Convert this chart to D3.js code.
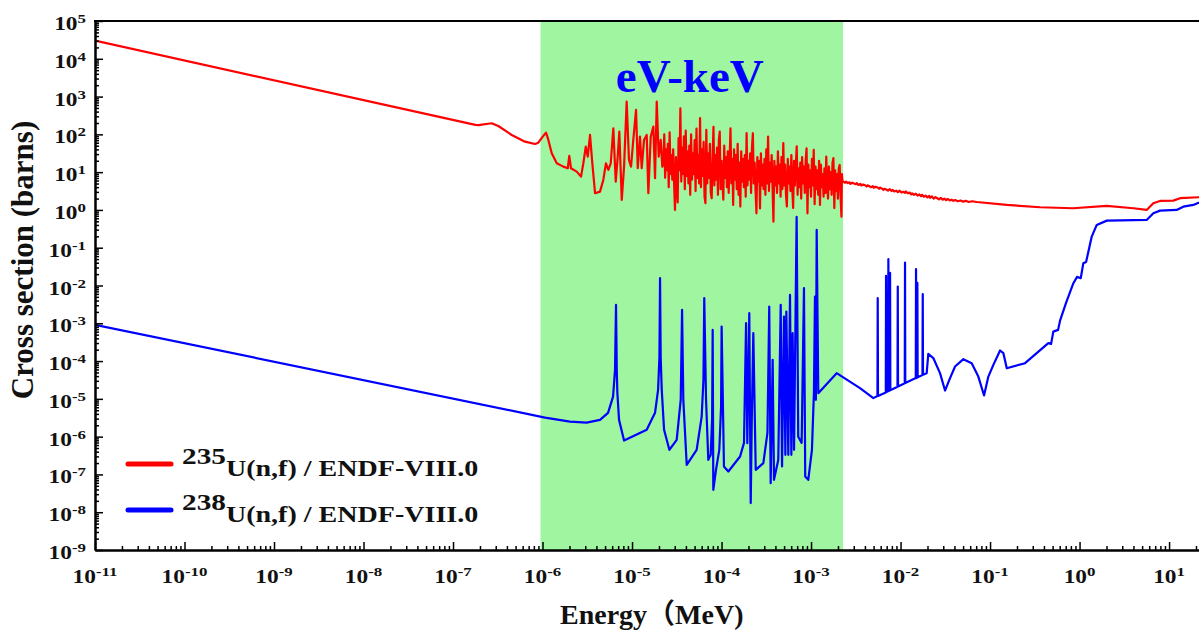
<!DOCTYPE html>
<html lang="en">
<head>
    <meta charset="UTF-8">
    <script src="https://d3js.org/d3.v7.min.js"></script>
    <title>Fission cross sections</title>
    <style>
        body { margin: 0; background: #fff; }
        svg { display: block; background: #fff; }
        text { font-family: "Liberation Serif", "Noto Sans CJK SC", serif; font-weight: bold; }
    </style>
</head>
<body>
    <svg width="1199" height="631"></svg>
    <script>
    // values, as [log10(E / MeV), log10(sigma / barn)]
    const u235Low = [
        [-11, 4.48], [-6.75, 2.25], [-6.717, 2.243], [-6.568, 2.294], [-6.494, 2.222], [-6.344, 1.984],
        [-6.196, 1.807], [-6.084, 1.746], [-6.047, 1.78], [-5.998, 1.939], [-5.961, 2.045], [-5.935, 1.852],
        [-5.897, 1.50], [-5.841, 1.235], [-5.768, 1.146], [-5.718, 1.103], [-5.701, 1.429], [-5.682, 1.103],
        [-5.618, 1.013], [-5.570, 0.881], [-5.544, 1.235], [-5.517, 1.675], [-5.495, 1.41], [-5.469, 1.984],
        [-5.447, 1.323], [-5.413, 0.442], [-5.358, 0.484], [-5.321, 0.794], [-5.291, 1.235], [-5.265, 1.058],
        [-5.238, 1.235], [-5.209, 2.161], [-5.182, 0.749], [-5.160, 1.41], [-5.142, 2.071], [-5.115, 0.265],
        [-5.089, 1.146], [-5.060, 2.865], [-5.034, 1.323], [-5.011, 1.146], [-4.986, 1.852], [-4.955, 2.646],
        [-4.936, 1.103], [-4.911, 1.939], [-4.892, 1.103], [-4.866, 1.852], [-4.836, 1.984], [-4.818, 0.442],
        [-4.791, 1.939], [-4.762, 2.204], [-4.743, 0.839], [-4.724, 2.865], [-4.702, 1.41], [-4.679, 1.852],
        [-4.662, 1.146]
    ];

    // dense resolved resonances, 10 eV - 2.25 keV
    const u235Resolved = [
        [-4.65, 1.20], [-4.64, 2.00], [-4.63, 0.85], [-4.62, 1.60], [-4.61, 1.05], [-4.60, 1.75], [-4.59, 0.60], [-4.58, 2.05], [-4.57, 0.95], [-4.56, 1.45],
        [-4.55, 0.80], [-4.54, 1.60], [-4.53, 0.70], [-4.52, 0.00], [-4.51, 1.40], [-4.50, 0.65], [-4.49, 0.20], [-4.48, 1.90], [-4.47, 1.05], [-4.46, 2.69],
        [-4.45, 0.75], [-4.44, 1.65], [-4.43, 0.95], [-4.42, 1.95], [-4.41, 0.55], [-4.40, 2.10], [-4.39, 0.90], [-4.38, 1.55], [-4.37, 0.70], [-4.36, 1.70],
        [-4.35, 0.40], [-4.34, 2.00], [-4.33, 0.80], [-4.32, 1.50], [-4.31, 0.95], [-4.30, 1.85], [-4.29, 0.50], [-4.28, 2.15], [-4.27, 0.85], [-4.26, 1.45],
        [-4.25, 0.70], [-4.24, 2.43], [-4.23, 0.60], [-4.22, 1.60], [-4.21, 0.90], [-4.20, 1.80], [-4.19, 0.35], [-4.18, 0.18], [-4.17, 2.12], [-4.16, 0.70],
        [-4.15, 1.50], [-4.14, 0.85], [-4.13, 1.75], [-4.12, 0.45], [-4.11, 0.31], [-4.10, 1.35], [-4.09, 2.20], [-4.08, 0.65], [-4.07, 1.45], [-4.06, 0.80],
        [-4.05, 1.65], [-4.04, 0.40], [-4.03, 1.85], [-4.02, 2.07], [-4.01, 0.55], [-4.00, 1.30], [-3.99, 0.75], [-3.98, 0.27], [-3.97, 1.70], [-3.96, 0.85],
        [-3.95, 1.40], [-3.94, 0.60], [-3.93, 1.55], [-3.92, 0.45], [-3.91, 1.30], [-3.90, 2.16], [-3.89, 0.70], [-3.88, 1.35], [-3.87, 0.13], [-3.86, 1.60],
        [-3.85, 0.80], [-3.84, 1.45], [-3.83, 0.55], [-3.82, 1.75], [-3.81, 0.40], [-3.80, 1.25], [-3.79, 0.09], [-3.78, 1.55], [-3.77, 0.75], [-3.76, 1.35],
        [-3.75, 0.60], [-3.74, 1.45], [-3.73, 0.35], [-3.72, 2.03], [-3.71, 0.65], [-3.70, 1.30], [-3.69, 0.80], [-3.68, 1.50], [-3.67, 0.45], [-3.66, 1.65],
        [-3.65, 2.03], [-3.64, 0.70], [-3.63, 1.25], [-3.62, 0.50], [-3.61, -0.09], [-3.60, 1.40], [-3.59, 0.75], [-3.58, 1.30], [-3.57, 0.04], [-3.56, 1.50],
        [-3.55, 0.65], [-3.54, 1.20], [-3.53, 0.55], [-3.52, 1.35], [-3.51, 0.40], [-3.50, 1.60], [-3.49, 0.70], [-3.48, 1.94], [-3.47, 0.50], [-3.46, 1.25],
        [-3.45, 0.75], [-3.44, 1.45], [-3.43, 0.60], [-3.42, -0.31], [-3.41, 1.30], [-3.40, 0.65], [-3.39, 1.15], [-3.38, 0.45], [-3.37, 1.55], [-3.36, 0.70],
        [-3.35, 1.20], [-3.34, 0.35], [-3.33, 1.40], [-3.32, 0.55], [-3.31, 1.77], [-3.30, 0.65], [-3.29, 1.20], [-3.28, 0.40], [-3.27, 0.09], [-3.26, 1.35],
        [-3.25, 0.70], [-3.24, 1.15], [-3.23, 0.50], [-3.22, 1.45], [-3.21, 0.60], [-3.20, 0.05], [-3.19, 1.30], [-3.18, 0.65], [-3.17, 1.20], [-3.16, 1.68],
        [-3.15, 0.40], [-3.14, 1.10], [-3.13, 0.60], [-3.12, 1.25], [-3.11, 0.30], [-3.10, 1.40], [-3.09, 0.70], [-3.08, 1.15], [-3.07, 0.45], [-3.06, 1.30],
        [-3.05, 1.63], [-3.04, -0.09], [-3.03, 1.20], [-3.02, 0.60], [-3.01, 1.05], [-3.00, 0.35], [-2.99, 1.35], [-2.98, 0.65], [-2.97, 1.59], [-2.96, 0.15],
        [-2.95, 1.15], [-2.94, 0.55], [-2.93, 1.05], [-2.92, 0.40], [-2.91, 1.30], [-2.90, 0.13], [-2.89, 1.20], [-2.88, 0.60], [-2.87, 0.95], [-2.86, 0.35],
        [-2.85, 1.10], [-2.84, 0.45], [-2.83, 1.41], [-2.82, 0.60], [-2.81, 0.30], [-2.80, 1.15], [-2.79, 0.55], [-2.78, 1.00], [-2.77, 0.40], [-2.76, 1.25],
        [-2.75, 1.37], [-2.74, 0.05], [-2.73, 1.05], [-2.72, 0.50], [-2.71, 0.95], [-2.70, 0.30], [-2.69, 1.10], [-2.68, 1.19], [-2.67, 0.35], [-2.66, -0.18],
        [-2.655, 0.95], [-2.648, 0.75]
    ];

    const u235High = [
        [-2.639, 0.75], [-2.62, 0.72], [-2.61, 0.75], [-2.59, 0.71], [-2.57, 0.73], [-2.56, 0.69], [-2.54, 0.72], [-2.52, 0.70],
        [-2.50, 0.68], [-2.49, 0.71], [-2.47, 0.66], [-2.45, 0.69], [-2.44, 0.65], [-2.42, 0.67], [-2.40, 0.66], [-2.38, 0.62],
        [-2.37, 0.65], [-2.35, 0.63], [-2.33, 0.60], [-2.31, 0.63], [-2.30, 0.59], [-2.28, 0.61], [-2.26, 0.60], [-2.24, 0.56],
        [-2.23, 0.59], [-2.21, 0.57], [-2.19, 0.53], [-2.18, 0.56], [-2.16, 0.54], [-2.14, 0.51], [-2.12, 0.55], [-2.10, 0.50],
        [-2.09, 0.53], [-2.07, 0.49], [-2.05, 0.51], [-2.03, 0.47], [-2.01, 0.51], [-1.99, 0.46], [-1.97, 0.48], [-1.95, 0.45],
        [-1.94, 0.49], [-1.92, 0.44], [-1.90, 0.46], [-1.88, 0.41], [-1.87, 0.44], [-1.85, 0.40], [-1.83, 0.43], [-1.81, 0.38],
        [-1.79, 0.41], [-1.77, 0.36], [-1.76, 0.40], [-1.74, 0.35], [-1.72, 0.38], [-1.70, 0.33], [-1.68, 0.37], [-1.67, 0.32],
        [-1.65, 0.36], [-1.63, 0.30], [-1.61, 0.34], [-1.59, 0.31], [-1.57, 0.28], [-1.55, 0.32], [-1.53, 0.27], [-1.51, 0.30],
        [-1.49, 0.26], [-1.47, 0.29], [-1.45, 0.25], [-1.43, 0.27], [-1.41, 0.24], [-1.39, 0.26], [-1.36, 0.23], [-1.33, 0.25],
        [-1.30, 0.22], [-1.27, 0.24], [-1.24, 0.21], [-1.20, 0.23], [-1.149, 0.21],
        [-0.813, 0.132], [-0.441, 0.071], [-0.073, 0.045], [0.304, 0.106], [0.602, 0.045], [0.750, 0.0],
        [0.824, 0.177], [0.899, 0.238], [1.048, 0.246], [1.123, 0.310], [1.335, 0.336]
    ];

    const u238Fission = [
        [-11, -3.04], [-5.972, -5.495], [-5.693, -5.601], [-5.507, -5.627], [-5.358, -5.556], [-5.268, -5.370],
        [-5.212, -4.939], [-5.190, -4.233], [-5.179, -2.513], [-5.170, -4.300], [-5.164, -4.841], [-5.145, -5.556],
        [-5.089, -6.103], [-4.836, -5.820], [-4.743, -5.370], [-4.709, -4.762], [-4.694, -3.900], [-4.687, -1.807],
        [-4.680, -3.900], [-4.668, -4.762], [-4.642, -5.820], [-4.583, -6.349], [-4.501, -6.085], [-4.456, -5.026],
        [-4.441, -2.646], [-4.427, -5.026], [-4.389, -6.746], [-4.278, -6.349], [-4.222, -5.468], [-4.202, -4.497],
        [-4.193, -2.336], [-4.173, -5.026], [-4.148, -6.614], [-4.121, -6.481], [-4.105, -5.500], [-4.099, -3.175],
        [-4.092, -7.407], [-4.062, -6.878], [-4.025, -6.349], [-4.005, -5.200], [-3.999, -3.087], [-3.973, -6.790],
        [-3.924, -6.923], [-3.793, -6.526], [-3.749, -6.164], [-3.726, -2.998], [-3.712, -6.172], [-3.690, -2.733],
        [-3.674, -7.759], [-3.662, -5.556], [-3.645, -3.262], [-3.618, -6.878], [-3.533, -6.701], [-3.487, -5.899],
        [-3.467, -2.558], [-3.451, -7.230], [-3.429, -3.968], [-3.414, -7.143], [-3.366, -6.614], [-3.339, -2.513],
        [-3.324, -6.790], [-3.302, -2.823], [-3.287, -6.481], [-3.276, -2.690], [-3.254, -6.481], [-3.235, -2.249],
        [-3.220, -6.481], [-3.206, -3.262], [-3.190, -6.349], [-3.161, -0.185], [-3.143, -6.005], [-3.105, -6.164],
        [-3.079, -2.071], [-3.065, -7.055], [-3.031, -7.143], [-2.990, -6.349], [-2.968, -4.849], [-2.956, -2.294],
        [-2.946, -5.026], [-2.937, -0.529], [-2.919, -4.849], [-2.714, -4.320], [-2.453, -4.717], [-2.304, -4.981],
        [-2.258, -4.927], [-2.255, -2.336], [-2.252, -4.922],
        [-2.165, -4.83], [-2.162, -1.746], [-2.159, -4.82], [-2.139, -4.80], [-2.136, -1.304], [-2.133, -4.79],
        [-2.120, -4.78], [-2.117, -1.667], [-2.114, -4.77],
        [-2.034, -4.68], [-2.031, -2.029], [-2.028, -4.67],
        [-1.953, -4.59], [-1.950, -1.394], [-1.947, -4.58],
        [-1.830, -4.45], [-1.827, -1.569], [-1.824, -4.45], [-1.815, -4.44], [-1.812, -1.931], [-1.809, -4.43],
        [-1.755, -4.37], [-1.752, -2.230], [-1.749, -4.36],
        [-1.708, -4.32], [-1.690, -3.81], [-1.634, -3.92], [-1.559, -4.32], [-1.503, -4.78], [-1.447, -4.45],
        [-1.391, -4.145], [-1.298, -3.95], [-1.205, -4.056], [-1.131, -4.41], [-1.067, -4.91], [-1.019, -4.41],
        [-0.963, -4.10], [-0.888, -3.72], [-0.851, -3.79], [-0.813, -4.19], [-0.609, -4.056], [-0.349, -3.526],
        [-0.318, -3.545], [-0.293, -3.220], [-0.240, -3.175], [-0.218, -2.929], [-0.151, -2.460], [-0.069, -1.939],
        [-0.028, -1.772], [0.013, -1.807], [0.042, -1.410], [0.073, -1.376], [0.136, -0.706], [0.192, -0.397],
        [0.304, -0.283], [0.750, -0.265], [0.824, -0.087], [0.899, -0.019], [1.085, 0.0], [1.159, 0.087],
        [1.271, 0.132], [1.335, 0.193]
    ];

    const seriesNames = ["U(n,f) / ENDF-VIII.0", "U(n,f) / ENDF-VIII.0"];
    const seriesIsotopes = ["235", "238"];
    const seriesColors = ["#ff0000", "#0000ff"];

    const energyRange = [1e-11, 21.6];      // MeV
    const sigmaRange = [1e-9, 1e5];         // barns
    const bandRange = [9.5e-7, 2.28e-3];    // eV-keV shaded region
    const bandLabel = "eV-keV";
    const xExps = d3.range(-11, 2);
    const yExps = d3.range(-9, 6);

    const svg = d3.select("svg");
    const margin = {top: 21, left: 95, bottom: 550, right: 1199};

    const x = d3.scaleLog().domain(energyRange).range([margin.left, margin.right]);
    const y = d3.scaleLog().domain(sigmaRange).range([margin.bottom, margin.top]);

    // shaded band
    svg.append("rect")
        .attr("x", x(bandRange[0]))
        .attr("y", y(sigmaRange[1]))
        .attr("width", x(bandRange[1]) - x(bandRange[0]))
        .attr("height", y(sigmaRange[0]) - y(sigmaRange[1]))
        .attr("fill", "#a0f5a0");

    svg.append("text")
        .attr("x", x(Math.sqrt(bandRange[0] * bandRange[1])) - 2)
        .attr("y", 92)
        .attr("text-anchor", "middle")
        .attr("font-size", 47)
        .attr("fill", "#0000ff")
        .text(bandLabel);

    svg.append("clipPath").attr("id", "plot")
        .append("rect")
        .attr("x", margin.left).attr("y", margin.top)
        .attr("width", margin.right - margin.left).attr("height", margin.bottom - margin.top);

    const line = d3.line()
        .x(d => x(Math.pow(10, d[0])))
        .y(d => y(Math.pow(10, d[1])));

    const u235Fission = u235Low.concat(u235Resolved, u235High);

    const curves = svg.append("g").attr("clip-path", "url(#plot)");
    [u235Fission, u238Fission].forEach((s, i) => {
        curves.append("path")
            .attr("d", line(s))
            .attr("fill", "none")
            .attr("stroke", seriesColors[i])
            .attr("stroke-width", 2.2)
            .attr("stroke-linejoin", "round");
    });

    // axes: major + minor ticks pointing inward
    const xMajor = xExps.map(e => Math.pow(10, e));
    const yMajor = yExps.map(e => Math.pow(10, e));
    const minorOf = (exps, hi) => exps.flatMap(e => d3.range(2, 10).map(m => m * Math.pow(10, e))).filter(v => v <= hi);
    const xMinor = minorOf(xExps, energyRange[1]);
    const yMinor = minorOf(yExps.slice(0, -1), sigmaRange[1]);

    const axisStyle = g => g.call(g => g.selectAll("line").attr("stroke", "#000").attr("stroke-width", 1.5))
                            .call(g => g.select(".domain").attr("stroke", "#000").attr("stroke-width", 2));

    svg.append("g").attr("transform", `translate(0,${margin.bottom})`)
        .call(d3.axisBottom(x).tickValues(xMinor).tickSize(-4).tickSizeOuter(0).tickFormat(""))
        .call(axisStyle);
    svg.append("g").attr("transform", `translate(0,${margin.bottom})`)
        .call(d3.axisBottom(x).tickValues(xMajor).tickSize(-8).tickSizeOuter(0).tickFormat(""))
        .call(axisStyle);
    svg.append("g").attr("transform", `translate(${margin.left},0)`)
        .call(d3.axisLeft(y).tickValues(yMinor).tickSize(-4).tickSizeOuter(0).tickFormat(""))
        .call(axisStyle);
    svg.append("g").attr("transform", `translate(${margin.left},0)`)
        .call(d3.axisLeft(y).tickValues(yMajor).tickSize(-8).tickSizeOuter(0).tickFormat(""))
        .call(axisStyle);

    // top frame line
    svg.append("line")
        .attr("x1", margin.left - 1).attr("x2", margin.right)
        .attr("y1", margin.top).attr("y2", margin.top)
        .attr("stroke", "#000").attr("stroke-width", 2);

    // tick labels as 10^n
    const powLabel = (sel, anchor) => {
        const t = sel.append("text").attr("text-anchor", anchor).attr("font-size", 18).attr("fill", "#111");
        t.append("tspan").text("10");
        t.append("tspan").attr("font-size", 13).attr("dy", -7).text(d => d);
    };
    svg.append("g").selectAll("g").data(xExps).join("g")
        .attr("transform", d => `translate(${x(Math.pow(10, d))},583) scale(1.3,1)`)
        .call(powLabel, "middle");
    svg.append("g").selectAll("g").data(yExps).join("g")
        .attr("transform", d => `translate(86,${y(Math.pow(10, d)) + 9}) scale(1.3,1)`)
        .call(powLabel, "end");

    // axis titles
    svg.append("text")
        .attr("transform", "translate(33,260) rotate(-90)")
        .attr("text-anchor", "middle")
        .attr("font-size", 31)
        .attr("fill", "#111")
        .text("Cross section (barns)");

    svg.append("text")
        .attr("x", 560).attr("y", 624)
        .attr("font-size", 28)
        .attr("fill", "#111")
        .text("Energy（MeV)");

    // legend
    const legend = svg.append("g").selectAll("g").data(seriesNames).join("g")
        .attr("transform", (d, i) => `translate(0,${464 + i * 46})`);
    legend.append("line")
        .attr("x1", 128).attr("x2", 171)
        .attr("stroke", (d, i) => seriesColors[i])
        .attr("stroke-width", 5)
        .attr("stroke-linecap", "round");
    const lt = legend.append("g").attr("transform", "translate(182,12) scale(1.22,1)")
        .append("text").attr("font-size", 23).attr("fill", "#111");
    lt.append("tspan").attr("font-size", 24).attr("dy", -12).text((d, i) => seriesIsotopes[i]);
    lt.append("tspan").attr("dy", 12).text(d => d);
    </script>
</body>
</html>
